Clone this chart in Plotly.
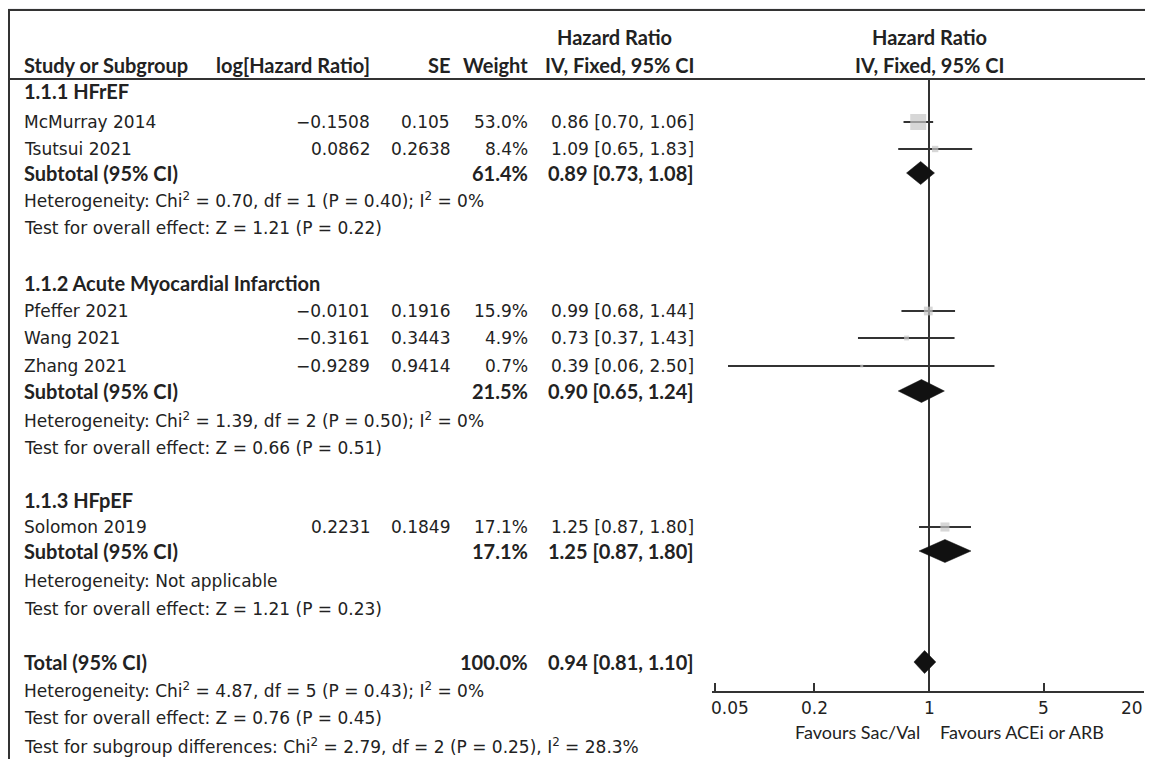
import numpy as np
import plotly.graph_objects as go

# ---------------- data ----------------
studies = ["McMurray 2014", "Tsutsui 2021", "Pfeffer 2021", "Wang 2021", "Zhang 2021", "Solomon 2019"]
log_hr = [-0.1508, 0.0862, -0.0101, -0.3161, -0.9289, 0.2231]
se = [0.105, 0.2638, 0.1916, 0.3443, 0.9414, 0.1849]
weight = [53.0, 8.4, 15.9, 4.9, 0.7, 17.1]
hr = [0.86, 1.09, 0.99, 0.73, 0.39, 1.25]
hr_lo = [0.70, 0.65, 0.68, 0.37, 0.06, 0.87]
hr_hi = [1.06, 1.83, 1.44, 1.43, 2.50, 1.80]

groups = ["1.1.1 HFrEF", "1.1.2 Acute Myocardial Infarction", "1.1.3 HFpEF"]
sub_weight = [61.4, 21.5, 17.1]
sub_hr = [0.89, 0.90, 1.25]
sub_lo = [0.73, 0.65, 0.87]
sub_hi = [1.08, 1.24, 1.80]
sub_het = ["Heterogeneity: Chi<sup>2</sup> = 0.70, df = 1 (P = 0.40); I<sup>2</sup> = 0%",
           "Heterogeneity: Chi<sup>2</sup> = 1.39, df = 2 (P = 0.50); I<sup>2</sup> = 0%",
           "Heterogeneity: Not applicable"]
sub_test = ["Test for overall effect: Z = 1.21 (P = 0.22)",
            "Test for overall effect: Z = 0.66 (P = 0.51)",
            "Test for overall effect: Z = 1.21 (P = 0.23)"]

total_weight = 100.0
total_hr = 0.94
total_lo = 0.81
total_hi = 1.10
total_notes = ["Heterogeneity: Chi<sup>2</sup> = 4.87, df = 5 (P = 0.43); I<sup>2</sup> = 0%",
               "Test for overall effect: Z = 0.76 (P = 0.45)",
               "Test for subgroup differences: Chi<sup>2</sup> = 2.79, df = 2 (P = 0.25), I<sup>2</sup> = 28.3%"]

tick_vals = [0.05, 0.2, 1, 5, 20]
tick_text = ["0.05", "0.2", "1", "5", "20"]
favours_left = "Favours Sac/Val"
favours_right = "Favours ACEi or ARB"

# ---------------- layout constants ----------------
# The page body has an 8px margin, so the figure starts at page (8, 8).
OFF = 8
W, H = 1137, 751
REG = "DejaVu Sans"
BOLD = "Lato"
FS = 17
FSB = 20
TXT = "#222222"
LINE = "#333333"

# page-pixel rows (y centre of each line)
group_head_y = [91, 283, 500]
study_y = [122, 149, 311, 338, 366, 527]
sub_y = [173, 391, 551]
het_y = [200, 420, 581]
test_y = [228, 448, 609]
total_y = 662
total_note_y = [690, 718, 746]
axis_y = 692
header_line_y = 79
top_border_y = 10
left_border_x = 8

X_NAME = 22
X_LOG = 372
X_SE = 452
X_W = 530
X_CI = 696
X_FOREST_C = 929

# forest axis pixel geometry (page pixels)
px_per_dec = 164.5
x_one_px = 929.0  # page position of HR = 1
dom_l, dom_r = 712, 1144


def fx(x):  # page x -> figure pixel
    return x - OFF


def fy(y):  # page y -> figure pixel (y axis data units)
    return y - OFF


def px(x):
    return fx(x) / W


rng = [(dom_l - x_one_px) / px_per_dec, (dom_r - x_one_px) / px_per_dec]


def fmt_ci(v, l, h):
    return f"{v:.2f} [{l:.2f}, {h:.2f}]"


def g(v):
    return f"{v:g}".replace("-", "\u2212")


fig = go.Figure()
ann = []


def text(x, y, s, anchor="left", bold=False, size=None, family=None):
    ann.append(dict(xref="paper", yref="y", x=px(x), y=fy(y), text=s, showarrow=False,
                    xanchor=anchor, yanchor="middle",
                    font=dict(family=family or (BOLD if bold else REG),
                              size=size or (FSB if bold else FS), color=TXT,
                              weight="bold" if bold else "normal")))


# headers
text(614, 37, "Hazard Ratio", "center", bold=True)
text(X_CI, 65, "IV, Fixed, 95% CI", "right", bold=True)
text(X_FOREST_C, 37, "Hazard Ratio", "center", bold=True)
text(X_FOREST_C, 65, "IV, Fixed, 95% CI", "center", bold=True)
text(X_NAME, 65, "Study or Subgroup", "left", bold=True)
text(X_LOG, 65, "log[Hazard Ratio]", "right", bold=True)
text(X_SE, 65, "SE", "right", bold=True)
text(X_W, 65, "Weight", "right", bold=True)

# studies
for i, s in enumerate(studies):
    y = study_y[i]
    text(X_NAME, y, s)
    text(X_LOG, y, g(log_hr[i]), "right")
    text(X_SE, y, g(se[i]), "right")
    text(X_W, y, f"{weight[i]:.1f}%", "right")
    text(X_CI, y, fmt_ci(hr[i], hr_lo[i], hr_hi[i]), "right")

for k, gname in enumerate(groups):
    text(X_NAME, group_head_y[k], gname, bold=True)
    text(X_NAME, sub_y[k], "Subtotal (95% CI)", bold=True)
    text(X_W, sub_y[k], f"{sub_weight[k]:.1f}%", "right", bold=True)
    text(X_CI, sub_y[k], fmt_ci(sub_hr[k], sub_lo[k], sub_hi[k]), "right", bold=True)
    text(X_NAME, het_y[k], sub_het[k])
    text(X_NAME, test_y[k], sub_test[k])

text(X_NAME, total_y, "Total (95% CI)", bold=True)
text(X_W, total_y, f"{total_weight:.1f}%", "right", bold=True)
text(X_CI, total_y, fmt_ci(total_hr, total_lo, total_hi), "right", bold=True)
for s, y in zip(total_notes, total_note_y):
    text(X_NAME, y, s)

# favours labels
text(922, 732, favours_left, "right", size=18, family="Lato")
text(938, 732, favours_right, "left", size=18, family="Lato")

# tick labels placed through the axis
shifts = [15, 0, 0, 0, -11]
for t, tt, sh in zip(tick_vals, tick_text, shifts):
    ann.append(dict(xref="x", yref="y", x=np.log10(t), y=fy(708), text=tt, showarrow=False,
                    xanchor="center", yanchor="middle", xshift=sh,
                    font=dict(family=REG, size=FS, color=TXT)))

# line of no effect
fig.add_trace(go.Scatter(x=[1, 1], y=[fy(header_line_y), fy(axis_y)], mode="lines",
                         line=dict(color=LINE, width=2), hoverinfo="skip", showlegend=False))

# CI lines
for i in range(len(studies)):
    fig.add_trace(go.Scatter(x=[hr_lo[i], hr_hi[i]], y=[fy(study_y[i])] * 2, mode="lines",
                             line=dict(color=LINE, width=2), hoverinfo="skip", showlegend=False))

# squares (area proportional to weight)
sizes = [max(3, 16 * np.sqrt(w / max(weight))) for w in weight]
fig.add_trace(go.Scatter(x=hr, y=[fy(v) for v in study_y], mode="markers",
                         marker=dict(symbol="square", size=sizes, color="#c6c6c6", line=dict(width=0)),
                         hoverinfo="skip", showlegend=False))

# diamonds
DH = 11.5
dia = [(sub_hr[k], sub_lo[k], sub_hi[k], sub_y[k]) for k in range(3)] + [(total_hr, total_lo, total_hi, total_y)]
for est, lo, hi, y in dia:
    yy = fy(y)
    fig.add_trace(go.Scatter(x=[lo, est, hi, est, lo], y=[yy, yy - DH, yy, yy + DH, yy],
                             mode="lines", fill="toself", fillcolor="#111111",
                             line=dict(color="#111111", width=0.5), hoverinfo="skip", showlegend=False))

tb = 1 - fy(top_border_y) / H
shapes = [
    dict(type="rect", xref="paper", yref="paper", x0=px(left_border_x), x1=1.01, y0=-0.01, y1=tb,
         fillcolor="white", line=dict(width=0), layer="below"),
    dict(type="line", xref="paper", yref="paper", x0=px(left_border_x), x1=1.01, y0=tb, y1=tb,
         line=dict(color=LINE, width=2)),
    dict(type="line", xref="paper", yref="paper", x0=px(left_border_x) + 1 / W, x1=px(left_border_x) + 1 / W,
         y0=-0.01, y1=tb, line=dict(color=LINE, width=2)),
    dict(type="line", xref="paper", yref="paper", x0=px(left_border_x), x1=1.01,
         y0=1 - fy(header_line_y) / H, y1=1 - fy(header_line_y) / H, line=dict(color=LINE, width=2)),
]

fig.update_layout(
    width=W, height=H, margin=dict(l=0, r=0, t=0, b=0),
    paper_bgcolor="#f0f0f2", plot_bgcolor="rgba(0,0,0,0)",
    shapes=shapes, annotations=ann, showlegend=False,
    xaxis=dict(type="log", range=rng, domain=[px(dom_l), px(dom_r)], anchor="free",
               position=1 - fy(axis_y) / H, showline=True, linecolor=LINE, linewidth=2,
               ticks="inside", ticklen=8, tickwidth=1.5, tickcolor=LINE,
               tickvals=tick_vals, showticklabels=False, showgrid=False, zeroline=False,
               fixedrange=True),
    yaxis=dict(range=[H, 0], domain=[0, 1], visible=False, fixedrange=True),
)

fig.write_html("out.html")
